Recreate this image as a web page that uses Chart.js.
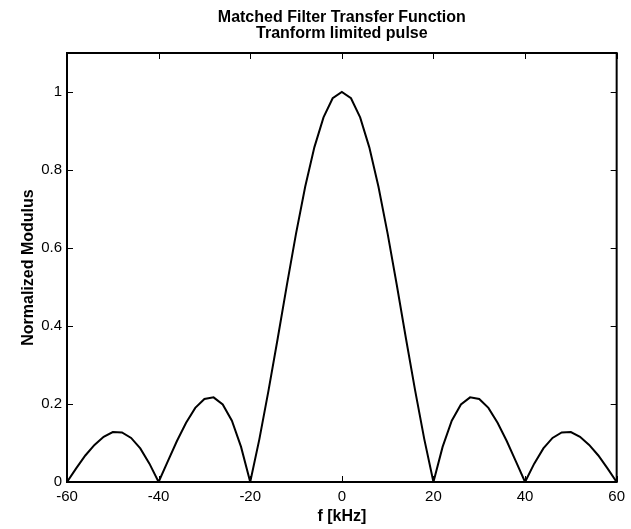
<!DOCTYPE html>
<html>
<head>
<meta charset="utf-8">
<script src="https://cdn.jsdelivr.net/npm/chart.js@4/dist/chart.umd.min.js"></script>
<style>
  html, body { margin: 0; padding: 0; background: #fff; }
  #wrap { width: 631px; height: 529px; }
</style>
</head>
<body>
<div id="wrap"><canvas id="mfChart" width="631" height="529"></canvas></div>
<script>
// frequency axis (kHz) and normalized modulus
const freqs = [
  -60, -58, -56, -54, -52, -50, -48, -46, -44, -42,
  -40, -38, -36, -34, -32, -30, -28, -26, -24, -22,
  -20, -18, -16, -14, -12, -10, -8, -6, -4, -2,
  0, 2, 4, 6, 8, 10, 12, 14, 16, 18,
  20, 22, 24, 26, 28, 30, 32, 34, 36, 38,
  40, 42, 44, 46, 48, 50, 52, 54, 56, 58, 60,
];
const modulus = [
  0, 0.035, 0.068, 0.095, 0.116, 0.128, 0.127, 0.113, 0.086, 0.047,
  0, 0.053, 0.105, 0.152, 0.19, 0.213, 0.217, 0.199, 0.157, 0.09,
  0, 0.11, 0.235, 0.368, 0.505, 0.637, 0.757, 0.858, 0.935, 0.984,
  1, 0.984, 0.935, 0.858, 0.757, 0.637, 0.505, 0.368, 0.235, 0.11,
  0, 0.09, 0.157, 0.199, 0.217, 0.213, 0.19, 0.152, 0.105, 0.053,
  0, 0.047, 0.086, 0.113, 0.127, 0.128, 0.116, 0.095, 0.068, 0.035, 0,
];
const xTicks = [-60, -40, -20, 0, 20, 40, 60];
const yTicks = [0, 0.2, 0.4, 0.6, 0.8, 1];

const titleLines = ["Matched Filter Transfer Function", "Tranform limited pulse"];
const xLabel = "f [kHz]";
const yLabel = "Normalized Modulus";

const FONT = "'Liberation Sans', Arial, Helvetica, sans-serif";

// MATLAB-like box with inward ticks on all four sides
const boxPlugin = {
  id: "boxPlugin",
  afterDraw(chart) {
    const { ctx, chartArea: a, scales } = chart;
    const len = 6;
    ctx.save();
    ctx.strokeStyle = "#000";
    ctx.lineWidth = 1;
    xTicks.forEach((v) => {
      const px = Math.round(scales.x.getPixelForValue(v)) + 0.5;
      ctx.beginPath();
      ctx.moveTo(px, a.bottom);
      ctx.lineTo(px, a.bottom - len);
      ctx.moveTo(px, a.top);
      ctx.lineTo(px, a.top + len);
      ctx.stroke();
    });
    yTicks.forEach((v) => {
      const py = Math.round(scales.y.getPixelForValue(v)) + 0.5;
      ctx.beginPath();
      ctx.moveTo(a.left, py);
      ctx.lineTo(a.left + len, py);
      ctx.moveTo(a.right, py);
      ctx.lineTo(a.right - len, py);
      ctx.stroke();
    });
    ctx.lineWidth = 2;
    ctx.strokeRect(a.left, a.top, a.right - a.left, a.bottom - a.top);
    ctx.restore();
  },
};

new Chart(document.getElementById("mfChart"), {
  type: "line",
  data: {
    datasets: [
      {
        data: freqs.map((f, i) => ({ x: f, y: modulus[i] })),
        borderColor: "#000",
        borderWidth: 2,
        pointRadius: 0,
        tension: 0,
        fill: false,
      },
    ],
  },
  options: {
    responsive: false,
    animation: false,
    layout: { padding: { left: 0, right: 10, top: 0, bottom: 0 } },
    plugins: {
      legend: { display: false },
      tooltip: { enabled: false },
      title: {
        display: true,
        fullSize: false, // center over the plot box like MATLAB
        text: titleLines,
        color: "#000",
        font: { family: FONT, size: 16, weight: "bold", lineHeight: 1.0 },
        padding: { top: 10, bottom: 11 },
      },
    },
    scales: {
      x: {
        type: "linear",
        min: -60,
        max: 60,
        afterBuildTicks: (s) => { s.ticks = xTicks.map((v) => ({ value: v })); },
        afterFit: (s) => { s.height = 47; },
        grid: { display: false, drawTicks: false },
        border: { display: false },
        ticks: {
          color: "#000",
          padding: 6,
          maxRotation: 0,
          font: { family: FONT, size: 15 },
        },
        title: {
          display: true,
          text: xLabel,
          color: "#000",
          padding: { top: 0, bottom: 3 },
          font: { family: FONT, size: 16, weight: "bold" },
        },
      },
      y: {
        type: "linear",
        min: 0,
        max: 1.1,
        afterBuildTicks: (s) => { s.ticks = yTicks.map((v) => ({ value: v })); },
        afterFit: (s) => { s.width = 67; },
        grid: { display: false, drawTicks: false },
        border: { display: false },
        ticks: {
          color: "#000",
          padding: 5,
          font: { family: FONT, size: 15 },
          callback: (v) => String(v),
        },
        title: {
          display: true,
          text: yLabel,
          color: "#000",
          padding: { top: 19, bottom: 0 },
          font: { family: FONT, size: 16, weight: "bold" },
        },
      },
    },
  },
  plugins: [boxPlugin],
});
</script>
</body>
</html>
